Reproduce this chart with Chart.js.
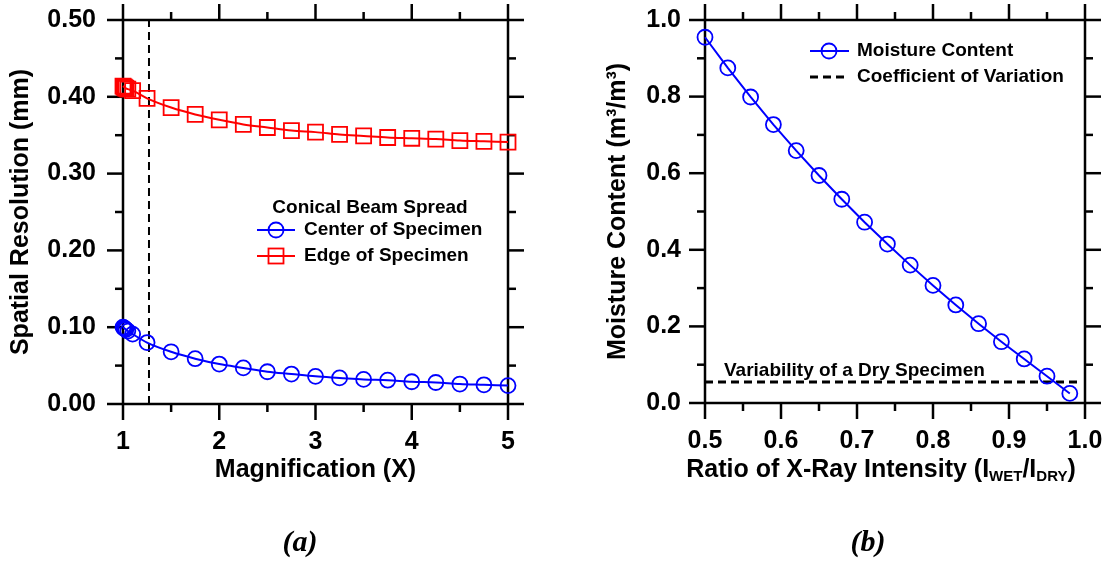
<!DOCTYPE html>
<html>
<head>
<meta charset="utf-8">
<script src="https://cdn.jsdelivr.net/npm/chart.js@4.4.0/dist/chart.umd.min.js"></script>
<style>
  html, body { margin: 0; padding: 0; background: #fff; }
  #wrap { position: relative; width: 1107px; height: 561px; }
  canvas { position: absolute; top: 0; }
  #left { left: 0; }
  #right { left: 553px; }
</style>
</head>
<body>
<div id="wrap">
  <canvas id="left" width="553" height="561"></canvas>
  <canvas id="right" width="554" height="561"></canvas>
</div>
<script>
// (a) spatial resolution vs magnification
const magnification = [1.0, 1.01, 1.02, 1.03, 1.05, 1.1, 1.25, 1.5, 1.75, 2.0, 2.25, 2.5, 2.75, 3.0, 3.25, 3.5, 3.75, 4.0, 4.25, 4.5, 4.75, 5.0];
const centerRes = [0.100, 0.099, 0.098, 0.097, 0.095, 0.091, 0.080, 0.068, 0.059, 0.052, 0.047, 0.042, 0.039, 0.036, 0.034, 0.032, 0.031, 0.029, 0.028, 0.026, 0.025, 0.024];
const edgeRes = [0.414, 0.413, 0.412, 0.411, 0.410, 0.408, 0.398, 0.386, 0.377, 0.370, 0.364, 0.360, 0.356, 0.354, 0.351, 0.349, 0.347, 0.346, 0.345, 0.343, 0.342, 0.341];
const beamLimit = 1.27;
const magTicks = [1, 2, 3, 4, 5];
const magMinor = [1.5, 2.5, 3.5, 4.5];
const resTicks = [0, 0.1, 0.2, 0.3, 0.4, 0.5];
const resMinor = [0.05, 0.15, 0.25, 0.35, 0.45];

// (b) moisture content vs intensity ratio
const intensityRatio = [0.50, 0.53, 0.56, 0.59, 0.62, 0.65, 0.68, 0.71, 0.74, 0.77, 0.80, 0.83, 0.86, 0.89, 0.92, 0.95, 0.98];
const moisture = [0.955, 0.875, 0.799, 0.727, 0.659, 0.594, 0.532, 0.472, 0.415, 0.360, 0.307, 0.256, 0.207, 0.160, 0.115, 0.070, 0.025];
const dryVariability = 0.055;
const dryRange = [0.5, 0.99];
const ratioTicks = [0.5, 0.6, 0.7, 0.8, 0.9, 1.0];
const ratioMinor = [0.55, 0.65, 0.75, 0.85, 0.95];
const moistTicks = [0, 0.2, 0.4, 0.6, 0.8, 1.0];
const moistMinor = [0.1, 0.3, 0.5, 0.7, 0.9];

const FONT = '"Liberation Sans", Arial, sans-serif';
const BLUE = '#0000ff', RED = '#ff0000';

// frame with outward ticks on all four sides
function frameTicks(xMajor, xMinor, yMajor, yMinor) {
  return {
    id: 'frameTicks',
    beforeDatasetsDraw(chart) {
      const { ctx, chartArea: a, scales: { x, y } } = chart;
      ctx.save();
      ctx.strokeStyle = '#000';
      ctx.lineWidth = 2.5;
      ctx.strokeRect(a.left, a.top, a.right - a.left, a.bottom - a.top);
      const seg = (x1, y1, x2, y2) => { ctx.beginPath(); ctx.moveTo(x1, y1); ctx.lineTo(x2, y2); ctx.stroke(); };
      const xt = (vals, len) => vals.forEach(v => {
        const p = x.getPixelForValue(v);
        seg(p, a.bottom, p, a.bottom + len);
        seg(p, a.top, p, a.top - len);
      });
      const yt = (vals, len) => vals.forEach(v => {
        const p = y.getPixelForValue(v);
        seg(a.left, p, a.left - len, p);
        seg(a.right, p, a.right + len, p);
      });
      xt(xMajor, 16); xt(xMinor, 8);
      yt(yMajor, 16); yt(yMinor, 8);
      ctx.restore();
    }
  };
}

function circle(ctx, x, y, color) {
  ctx.strokeStyle = color; ctx.lineWidth = 1.8;
  ctx.beginPath(); ctx.arc(x, y, 7.5, 0, Math.PI * 2); ctx.stroke();
}
function square(ctx, x, y, color) {
  ctx.strokeStyle = color; ctx.lineWidth = 1.8;
  ctx.strokeRect(x - 7.5, y - 7.5, 15, 15);
}

// fixed-size axis box, no extra label overflow padding
function scale(min, max, ticks, fmt, pad, size, horizontal) {
  return {
    type: 'linear', min: min, max: max,
    grid: { display: false, drawTicks: false },
    border: { display: false },
    afterBuildTicks: s => { s.ticks = ticks.map(v => ({ value: v })); },
    afterFit: s => {
      if (horizontal) s.height = size; else s.width = size;
      s.paddingLeft = s.paddingRight = s.paddingTop = s.paddingBottom = 0;
    },
    ticks: { color: '#000', padding: pad, font: { family: FONT, size: 25, weight: 'bold' }, callback: fmt }
  };
}

const leftLegend = {
  id: 'leftLegend',
  afterDraw(chart) {
    const ctx = chart.ctx;
    ctx.save();
    ctx.fillStyle = '#000';
    ctx.font = 'bold 19px ' + FONT;
    ctx.textBaseline = 'middle';
    ctx.textAlign = 'center';
    ctx.fillText('Conical Beam Spread', 370, 208);
    ctx.textAlign = 'left';
    ctx.lineWidth = 2;
    ctx.strokeStyle = BLUE;
    ctx.beginPath(); ctx.moveTo(257, 230); ctx.lineTo(295, 230); ctx.stroke();
    circle(ctx, 276, 230, BLUE);
    ctx.fillText('Center of Specimen', 304, 230);
    ctx.lineWidth = 2;
    ctx.strokeStyle = RED;
    ctx.beginPath(); ctx.moveTo(257, 256); ctx.lineTo(295, 256); ctx.stroke();
    square(ctx, 276, 256, RED);
    ctx.fillText('Edge of Specimen', 304, 256);
    ctx.font = 'italic bold 30px "Liberation Serif", serif';
    ctx.textAlign = 'center';
    ctx.fillText('(a)', 300, 543);
    ctx.restore();
  }
};

const rightLegend = {
  id: 'rightLegend',
  afterDraw(chart) {
    const ctx = chart.ctx;
    ctx.save();
    ctx.fillStyle = '#000';
    ctx.font = 'bold 19px ' + FONT;
    ctx.textBaseline = 'middle';
    ctx.textAlign = 'left';
    ctx.lineWidth = 2;
    ctx.strokeStyle = BLUE;
    ctx.beginPath(); ctx.moveTo(257, 51); ctx.lineTo(296, 51); ctx.stroke();
    circle(ctx, 276, 51, BLUE);
    ctx.fillText('Moisture Content', 304, 51);
    ctx.lineWidth = 3;
    ctx.strokeStyle = '#000';
    ctx.setLineDash([8, 5]);
    ctx.beginPath(); ctx.moveTo(257, 77); ctx.lineTo(296, 77); ctx.stroke();
    ctx.setLineDash([]);
    ctx.fillText('Coefficient of Variation', 304, 77);
    ctx.fillText('Variability of a Dry Specimen', 171, 371);

    // x axis title with subscripts
    const big = 'bold 25px ' + FONT, sub = 'bold 15px ' + FONT;
    const parts = [['Ratio of X-Ray Intensity (I', big, 0], ['WET', sub, 7], ['/I', big, 0], ['DRY', sub, 7], [')', big, 0]];
    let w = 0;
    parts.forEach(p => { ctx.font = p[1]; w += ctx.measureText(p[0]).width; });
    let x = 328 - w / 2;
    parts.forEach(p => { ctx.font = p[1]; ctx.fillText(p[0], x, 470 + p[2]); x += ctx.measureText(p[0]).width; });

    ctx.font = 'italic bold 30px "Liberation Serif", serif';
    ctx.textAlign = 'center';
    ctx.fillText('(b)', 315, 543);
    ctx.restore();
  }
};

new Chart(document.getElementById('left'), {
  type: 'line',
  data: {
    datasets: [
      {
        data: magnification.map((m, i) => ({ x: m, y: centerRes[i] })),
        borderColor: BLUE, borderWidth: 2, pointStyle: 'circle', pointRadius: 7.5, pointBorderWidth: 1.8,
        pointBorderColor: BLUE, pointBackgroundColor: 'rgba(0,0,0,0)', cubicInterpolationMode: 'monotone', clip: false
      },
      {
        data: magnification.map((m, i) => ({ x: m, y: edgeRes[i] })),
        borderColor: RED, borderWidth: 2, pointStyle: 'rect', pointRadius: 10.6, pointBorderWidth: 1.8,
        pointBorderColor: RED, pointBackgroundColor: 'rgba(0,0,0,0)', cubicInterpolationMode: 'monotone', clip: false
      },
      {
        data: [{ x: beamLimit, y: 0 }, { x: beamLimit, y: 0.5 }],
        borderColor: '#000', borderWidth: 2, borderDash: [8, 5], pointRadius: 0
      }
    ]
  },
  options: {
    responsive: false, animation: false, devicePixelRatio: 1,
    layout: { padding: { top: 20, right: 45, left: 0, bottom: 0 } },
    plugins: { legend: { display: false }, tooltip: { enabled: false } },
    scales: {
      x: Object.assign(scale(1, 5, magTicks, v => String(v), 23, 157, true), {
        title: { display: true, text: 'Magnification (X)', color: '#000', font: { family: FONT, size: 25, weight: 'bold' }, padding: { top: 0, bottom: 76 } }
      }),
      y: Object.assign(scale(0, 0.5, resTicks, v => v.toFixed(2), 27, 123, false), {
        title: { display: true, text: 'Spatial Resolution (mm)', color: '#000', font: { family: FONT, size: 25, weight: 'bold' }, padding: { top: 6, bottom: 0 } }
      })
    }
  },
  plugins: [frameTicks(magTicks, magMinor, resTicks, resMinor), leftLegend]
});

new Chart(document.getElementById('right'), {
  type: 'line',
  data: {
    datasets: [
      {
        data: intensityRatio.map((r, i) => ({ x: r, y: moisture[i] })),
        borderColor: BLUE, borderWidth: 2, pointStyle: 'circle', pointRadius: 7.5, pointBorderWidth: 1.8,
        pointBorderColor: BLUE, pointBackgroundColor: 'rgba(0,0,0,0)', clip: false
      },
      {
        data: dryRange.map(r => ({ x: r, y: dryVariability })),
        borderColor: '#000', borderWidth: 3, borderDash: [8, 5], pointRadius: 0
      }
    ]
  },
  options: {
    responsive: false, animation: false, devicePixelRatio: 1,
    layout: { padding: { top: 20, right: 22, left: 0, bottom: 0 } },
    plugins: { legend: { display: false }, tooltip: { enabled: false } },
    scales: {
      x: scale(0.5, 1.0, ratioTicks, v => v.toFixed(1), 23, 158, true),
      y: Object.assign(scale(0, 1.0, moistTicks, v => v.toFixed(1), 24, 152, false), {
        title: { display: true, text: 'Moisture Content (m³/m³)', color: '#000', font: { family: FONT, size: 25, weight: 'bold' }, padding: { top: 50, bottom: 0 } }
      })
    }
  },
  plugins: [frameTicks(ratioTicks, ratioMinor, moistTicks, moistMinor), rightLegend]
});
</script>
</body>
</html>
